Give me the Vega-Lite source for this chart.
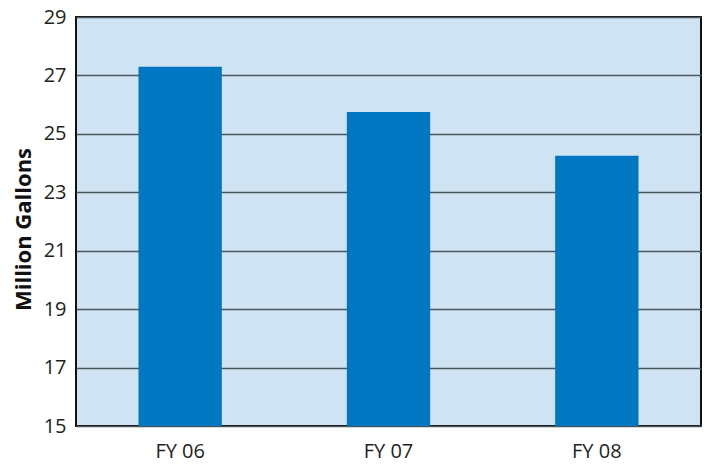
{
  "$schema": "https://vega.github.io/schema/vega-lite/v6.json",
  "width": 625,
  "height": 409,
  "autosize": {"type": "none"},
  "padding": {"left": 76, "top": 17, "right": 6, "bottom": 40},
  "background": "white",
  "data": {"values": [
    {"year": "FY 06", "gallons": 27.3},
    {"year": "FY 07", "gallons": 25.75},
    {"year": "FY 08", "gallons": 24.25}
  ]},
  "config": {
    "view": {"fill": "#CFE3F2", "stroke": "#111111", "strokeWidth": 2},
    "font": "Open Sans"
  },
  "mark": {"type": "bar", "color": "#0077C0", "clip": true},
  "encoding": {
    "x": {
      "field": "year", "type": "nominal",
      "scale": {"paddingInner": 0.6, "paddingOuter": 0.3},
      "axis": {
        "title": null, "labelAngle": 0, "ticks": false, "domain": false,
        "labelFontSize": 20, "labelColor": "#231F20", "labelPadding": 15,
        "labelFont": "Open Sans"
      }
    },
    "y": {
      "field": "gallons", "type": "quantitative",
      "scale": {"domain": [15, 29], "nice": false, "zero": false},
      "axis": {
        "title": "Million Gallons",
        "values": [15, 17, 19, 21, 23, 25, 27, 29],
        "ticks": false, "domain": false,
        "grid": true, "gridColor": "#4a555c", "gridWidth": 1.5,
        "labelFontSize": 20, "labelColor": "#231F20", "labelPadding": 10,
        "labelFont": "Open Sans",
        "titleFontSize": 22, "titleFontWeight": "bold", "titleColor": "#111111",
        "titleFont": "Open Sans",
        "titleX": -53, "titleY": 212, "titleBaseline": "middle", "titleAngle": -90
      }
    }
  }
}
